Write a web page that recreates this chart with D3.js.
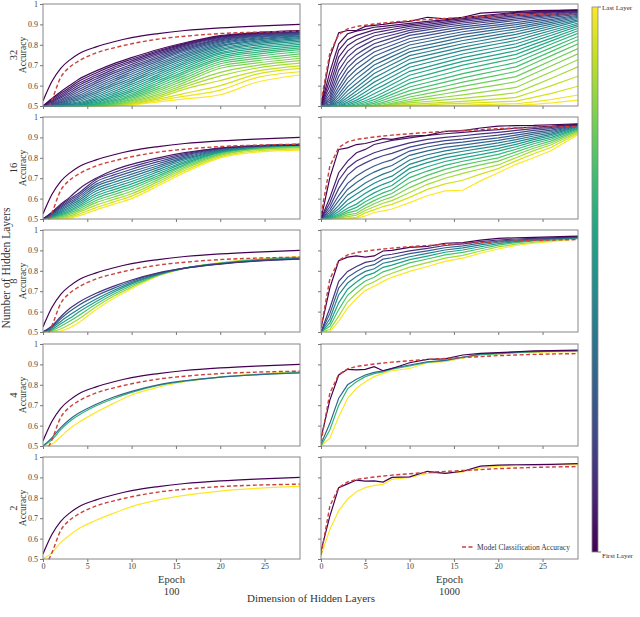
<!DOCTYPE html>
<html>
<head>
<meta charset="utf-8">
<script src="https://cdn.jsdelivr.net/npm/d3@7"></script>
<style>
body { margin: 0; background: #fff; }
text { font-family: 'Liberation Serif', 'DejaVu Serif', serif; fill: #333; }
.axis path { display: none; }
.axis line { stroke: #777; }
.axis text { font-family: 'Liberation Serif', serif; fill: #444; }
.frame { fill: none; stroke: #888; stroke-width: 1; }
</style>
</head>
<body>
<script>
var epochs100 = [0, 1, 2, 3, 4, 6, 8, 10, 13, 16, 20, 24, 29]
var epochs1000 = [0, 1, 2, 3, 4, 5, 6, 7, 8, 10, 12, 14, 16, 18, 20, 22, 24, 26, 29]
var layerCounts = [32, 16, 8, 4, 2]
var dimLabels = ['100', '1000']
var yTicks = [0.5, 0.6, 0.7, 0.8, 0.9, 1]
var xTicks = [0, 5, 10, 15, 20, 25]

// model classification accuracy (dashed)
var model100 = [0.44, 0.53, 0.64, 0.69, 0.72, 0.76, 0.785, 0.805, 0.828, 0.842, 0.855, 0.862, 0.867]
var model1000 = [0.52, 0.76, 0.85, 0.878, 0.89, 0.896, 0.902, 0.907, 0.911, 0.918, 0.924, 0.929, 0.934, 0.938, 0.943, 0.946, 0.949, 0.951, 0.953]

// dimension 100
var first100 = [0.525, 0.62, 0.685, 0.725, 0.755, 0.79, 0.815, 0.835, 0.855, 0.87, 0.883, 0.892, 0.90]

var acc100_32 = [first100,
  [.5,.537,.57,.60,.63,.672,.708,.737,.777,.81,.845,.86,.87],
  [.5,.532,.562,.591,.62,.662,.699,.729,.771,.806,.842,.858,.868],
  [.5,.527,.554,.582,.61,.652,.69,.721,.765,.802,.839,.856,.866],
  [.5,.522,.546,.573,.60,.642,.681,.713,.758,.797,.836,.854,.864],
  [.5,.518,.539,.564,.59,.632,.671,.704,.751,.792,.832,.851,.862],
  [.5,.514,.532,.556,.58,.622,.661,.695,.744,.786,.828,.848,.86],
  [.5,.511,.526,.548,.57,.612,.651,.686,.736,.78,.824,.845,.857],
  [.5,.508,.52,.54,.56,.602,.641,.677,.728,.774,.819,.841,.854],
  [.5,.506,.515,.533,.551,.592,.631,.667,.72,.767,.814,.837,.851],
  [.5,.504,.511,.527,.543,.582,.621,.657,.711,.76,.809,.833,.848],
  [.5,.502,.508,.521,.535,.572,.611,.647,.702,.752,.803,.828,.844],
  [.5,.5,.505,.516,.528,.563,.601,.637,.693,.744,.797,.823,.84],
  [.5,.5,.503,.512,.521,.554,.591,.627,.684,.736,.791,.817,.835],
  [.5,.5,.502,.508,.515,.545,.581,.617,.674,.727,.784,.811,.83],
  [.5,.5,.5,.505,.51,.537,.571,.607,.664,.718,.777,.804,.824],
  [.5,.5,.5,.503,.506,.53,.562,.597,.654,.709,.77,.797,.817],
  [.5,.5,.5,.502,.504,.523,.553,.587,.644,.70,.762,.789,.81],
  [.5,.5,.5,.5,.502,.517,.545,.578,.634,.69,.754,.781,.802],
  [.5,.5,.5,.5,.501,.512,.537,.569,.624,.68,.745,.772,.794],
  [.5,.5,.5,.5,.5,.508,.53,.56,.614,.67,.736,.763,.785],
  [.5,.5,.5,.5,.5,.505,.524,.552,.604,.66,.727,.753,.776],
  [.5,.5,.5,.5,.5,.503,.518,.545,.594,.649,.717,.743,.766],
  [.5,.5,.5,.5,.5,.502,.513,.538,.584,.638,.707,.732,.756],
  [.5,.5,.5,.5,.5,.5,.509,.532,.575,.627,.696,.721,.745],
  [.5,.5,.5,.5,.5,.5,.506,.526,.566,.616,.685,.71,.734],
  [.5,.5,.5,.5,.5,.5,.504,.521,.557,.605,.665,.698,.722],
  [.5,.5,.5,.5,.5,.5,.503,.517,.549,.594,.648,.685,.71],
  [.5,.5,.5,.5,.5,.5,.503,.513,.541,.583,.625,.67,.697],
  [.5,.5,.5,.5,.5,.5,.502,.51,.534,.562,.60,.655,.684],
  [.5,.5,.5,.5,.5,.5,.502,.507,.527,.548,.578,.638,.668],
  [.5,.5,.5,.5,.5,.5,.5,.505,.52,.535,.555,.615,.652]
]

var acc100_16 = [first100,
  [.5,.533,.573,.606,.645,.70,.74,.768,.80,.825,.848,.858,.862],
  [.5,.53,.566,.598,.626,.694,.728,.756,.791,.82,.847,.859,.864],
  [.5,.527,.56,.59,.617,.683,.716,.744,.781,.814,.845,.859,.865],
  [.5,.524,.554,.582,.608,.671,.704,.732,.771,.808,.843,.858,.866],
  [.5,.521,.548,.574,.599,.66,.692,.72,.761,.802,.84,.857,.866],
  [.5,.518,.542,.566,.59,.648,.68,.708,.752,.796,.837,.856,.866],
  [.5,.515,.536,.558,.581,.637,.668,.696,.742,.789,.834,.854,.865],
  [.5,.512,.53,.55,.572,.625,.656,.684,.732,.782,.831,.852,.864],
  [.5,.51,.525,.543,.564,.614,.644,.672,.722,.775,.828,.85,.862],
  [.5,.508,.52,.536,.556,.602,.632,.66,.712,.768,.825,.848,.86],
  [.5,.506,.515,.529,.548,.591,.62,.648,.703,.761,.821,.846,.857],
  [.5,.504,.51,.522,.54,.58,.608,.636,.693,.754,.817,.843,.854],
  [.5,.502,.506,.515,.532,.568,.596,.624,.683,.746,.812,.84,.85],
  [.5,.5,.503,.509,.523,.556,.584,.612,.673,.737,.806,.834,.844],
  [.5,.5,.5,.503,.515,.545,.573,.60,.663,.728,.80,.828,.838]
]

var acc100_8 = [first100,
  [.5,.53,.575,.615,.645,.69,.725,.755,.79,.813,.833,.847,.857],
  [.5,.525,.565,.60,.63,.677,.715,.749,.787,.813,.834,.848,.858],
  [.5,.52,.552,.583,.612,.662,.705,.742,.784,.813,.835,.85,.86],
  [.5,.513,.54,.567,.597,.65,.696,.736,.782,.813,.836,.852,.862],
  [.5,.508,.528,.553,.58,.637,.686,.728,.779,.813,.837,.853,.864],
  [.5,.503,.515,.537,.563,.624,.676,.72,.777,.812,.838,.855,.866],
  [.5,.5,.505,.52,.545,.61,.665,.712,.775,.812,.84,.857,.868]
]

var acc100_4 = [first100,
  [.5,.54,.59,.63,.66,.705,.74,.768,.80,.82,.838,.849,.858],
  [.5,.53,.58,.62,.65,.697,.733,.763,.797,.818,.838,.85,.86],
  [.5,.51,.545,.585,.615,.665,.71,.75,.788,.815,.838,.852,.866]
]

var acc100_2 = [first100,
  [.50,.53,.58,.617,.648,.69,.725,.757,.79,.812,.833,.846,.856]
]

// dimension 1000
var acc1000_32 = [
  [.50,.74,.859,.87,.87,.89,.895,.90,.906,.915,.935,.927,.935,.955,.96,.963,.968,.969,.97],
  [.50,.667,.805,.854,.867,.876,.886,.89,.895,.905,.915,.922,.933,.942,.951,.959,.962,.966,.971],
  [.50,.63,.773,.825,.846,.86,.873,.879,.886,.898,.908,.918,.928,.937,.946,.955,.959,.963,.969],
  [.50,.60,.74,.797,.825,.843,.859,.867,.875,.89,.90,.911,.922,.931,.94,.948,.954,.96,.968],
  [.50,.575,.708,.769,.802,.823,.843,.853,.862,.881,.892,.904,.915,.924,.933,.942,.948,.955,.964],
  [.50,.555,.675,.74,.778,.802,.825,.837,.848,.871,.883,.895,.907,.916,.926,.935,.942,.95,.961],
  [.50,.54,.646,.713,.753,.78,.805,.819,.833,.86,.873,.886,.898,.908,.917,.927,.936,.945,.958],
  [.50,.528,.619,.687,.729,.758,.786,.80,.816,.846,.86,.874,.888,.898,.909,.919,.929,.94,.955],
  [.50,.518,.594,.662,.705,.735,.765,.782,.798,.831,.846,.862,.877,.888,.898,.909,.921,.933,.95],
  [.50,.51,.575,.638,.68,.712,.744,.762,.78,.815,.831,.848,.864,.876,.888,.899,.912,.925,.945],
  [.50,.505,.557,.615,.656,.689,.722,.741,.761,.799,.816,.834,.851,.863,.876,.888,.903,.918,.94],
  [.50,.502,.542,.594,.633,.667,.701,.721,.742,.782,.80,.818,.836,.85,.864,.877,.894,.91,.935],
  [.50,.50,.529,.575,.61,.645,.68,.701,.723,.765,.784,.802,.821,.835,.85,.864,.883,.901,.929],
  [.50,.50,.519,.557,.591,.625,.659,.681,.703,.747,.766,.786,.805,.82,.836,.851,.871,.892,.922],
  [.50,.50,.511,.542,.573,.605,.638,.661,.684,.729,.749,.769,.789,.805,.82,.836,.859,.882,.916],
  [.50,.50,.505,.529,.557,.587,.617,.64,.663,.709,.73,.752,.773,.789,.805,.821,.846,.87,.907],
  [.50,.50,.50,.519,.542,.569,.597,.62,.643,.69,.712,.733,.755,.772,.788,.805,.832,.859,.899],
  [.50,.50,.50,.511,.529,.553,.578,.60,.624,.67,.692,.715,.737,.754,.772,.789,.818,.847,.89],
  [.50,.50,.50,.505,.519,.538,.56,.582,.605,.651,.674,.697,.719,.736,.753,.771,.802,.833,.88],
  [.50,.50,.50,.50,.511,.526,.544,.565,.587,.631,.654,.677,.70,.718,.735,.753,.786,.819,.869],
  [.50,.50,.50,.50,.505,.517,.531,.551,.571,.612,.635,.657,.68,.698,.716,.734,.769,.804,.856],
  [.50,.50,.50,.50,.50,.51,.521,.539,.557,.593,.615,.637,.659,.677,.695,.713,.75,.786,.841],
  [.50,.50,.50,.50,.50,.505,.513,.528,.544,.575,.596,.617,.638,.656,.674,.692,.73,.768,.825],
  [.50,.50,.50,.50,.50,.502,.506,.518,.531,.558,.578,.597,.617,.634,.651,.669,.708,.747,.805],
  [.50,.50,.50,.50,.50,.50,.502,.511,.521,.544,.561,.578,.596,.612,.628,.644,.683,.723,.782],
  [.50,.50,.50,.50,.50,.50,.50,.505,.513,.532,.546,.56,.575,.59,.604,.619,.658,.697,.756],
  [.50,.50,.50,.50,.50,.50,.50,.502,.508,.523,.534,.544,.555,.567,.579,.591,.63,.668,.727],
  [.50,.50,.50,.50,.50,.50,.50,.50,.504,.515,.522,.53,.537,.546,.555,.565,.60,.636,.692],
  [.50,.50,.50,.50,.50,.50,.50,.50,.502,.508,.513,.518,.523,.529,.535,.542,.57,.60,.646],
  [.50,.50,.50,.50,.50,.50,.50,.50,.50,.503,.506,.51,.513,.517,.52,.524,.542,.562,.597],
  [.50,.50,.50,.50,.50,.50,.50,.50,.50,.50,.502,.503,.505,.507,.509,.511,.52,.532,.554],
  [.50,.50,.50,.50,.50,.50,.50,.50,.50,.50,.50,.50,.50,.501,.502,.503,.508,.515,.529]
]

var acc1000_16 = [
  [.50,.703,.841,.849,.865,.87,.881,.894,.89,.906,.91,.93,.933,.946,.955,.958,.959,.962,.966],
  [.50,.605,.727,.784,.825,.841,.865,.875,.885,.898,.91,.918,.925,.932,.938,.945,.951,.955,.964],
  [.50,.58,.69,.75,.784,.805,.825,.838,.85,.873,.89,.90,.908,.917,.925,.934,.943,.949,.963],
  [.50,.56,.65,.715,.752,.775,.795,.81,.822,.852,.871,.884,.892,.902,.911,.922,.934,.943,.961],
  [.50,.545,.615,.675,.711,.738,.76,.777,.79,.833,.853,.868,.877,.888,.898,.911,.925,.936,.96],
  [.50,.532,.59,.645,.679,.707,.73,.748,.762,.812,.834,.851,.862,.874,.885,.90,.916,.929,.958],
  [.50,.522,.567,.618,.646,.676,.70,.72,.735,.789,.815,.834,.847,.86,.873,.889,.907,.922,.956],
  [.50,.515,.55,.593,.622,.65,.675,.695,.71,.768,.795,.817,.832,.846,.86,.878,.898,.915,.953],
  [.50,.51,.537,.572,.597,.626,.65,.67,.686,.748,.776,.80,.816,.831,.846,.866,.889,.908,.95],
  [.50,.506,.526,.553,.573,.603,.628,.648,.664,.727,.756,.782,.80,.816,.833,.854,.879,.90,.946],
  [.50,.503,.518,.54,.557,.585,.608,.628,.643,.703,.735,.763,.783,.80,.817,.842,.869,.892,.942],
  [.50,.502,.512,.53,.541,.568,.59,.61,.625,.679,.714,.743,.765,.783,.80,.829,.858,.883,.937],
  [.50,.50,.507,.52,.528,.554,.575,.593,.607,.654,.692,.722,.746,.765,.784,.815,.847,.874,.932],
  [.50,.50,.504,.512,.519,.542,.56,.577,.59,.63,.67,.70,.724,.745,.765,.80,.835,.864,.926],
  [.50,.50,.502,.505,.508,.53,.545,.561,.572,.606,.645,.672,.69,.72,.747,.785,.82,.852,.92],
  [.50,.50,.50,.502,.503,.515,.532,.54,.549,.58,.614,.638,.641,.687,.727,.768,.80,.836,.914]
]

var acc1000_8 = [
  [.52,.716,.849,.867,.873,.867,.873,.897,.90,.915,.92,.935,.938,.95,.959,.962,.964,.966,.97],
  [.50,.618,.748,.797,.821,.841,.849,.875,.881,.898,.91,.924,.932,.943,.951,.956,.959,.962,.966],
  [.50,.59,.716,.768,.797,.82,.83,.857,.864,.884,.898,.913,.922,.935,.945,.951,.955,.959,.964],
  [.50,.565,.683,.74,.772,.797,.81,.837,.846,.869,.885,.902,.912,.927,.94,.947,.952,.957,.963],
  [.50,.545,.643,.71,.745,.775,.79,.817,.828,.855,.872,.891,.902,.918,.933,.943,.949,.955,.962],
  [.50,.528,.61,.68,.718,.75,.768,.795,.808,.839,.858,.878,.89,.908,.926,.938,.946,.952,.961],
  [.50,.512,.578,.648,.69,.727,.746,.771,.788,.818,.84,.862,.876,.897,.917,.931,.94,.948,.959],
  [.50,.50,.553,.618,.664,.703,.724,.748,.768,.797,.821,.846,.862,.886,.907,.924,.935,.943,.956]
]

var acc1000_4 = [
  [.54,.725,.848,.876,.873,.876,.889,.869,.88,.908,.925,.927,.946,.954,.958,.962,.966,.968,.97],
  [.51,.611,.734,.80,.827,.848,.861,.868,.881,.897,.913,.92,.935,.951,.955,.96,.963,.965,.967],
  [.50,.58,.70,.78,.815,.84,.855,.863,.877,.893,.91,.918,.935,.948,.952,.958,.962,.964,.966],
  [.50,.538,.644,.734,.783,.815,.84,.856,.869,.88,.908,.913,.93,.946,.951,.956,.959,.961,.962]
]

var acc1000_2 = [
  [.54,.71,.85,.868,.887,.882,.883,.877,.90,.903,.93,.92,.93,.955,.96,.962,.963,.964,.968],
  [.516,.645,.737,.794,.83,.85,.861,.866,.89,.90,.919,.92,.927,.947,.955,.958,.96,.961,.963]
]

var panelSeries = {
  32: [acc100_32, acc1000_32],
  16: [acc100_16, acc1000_16],
  8: [acc100_8, acc1000_8],
  4: [acc100_4, acc1000_4],
  2: [acc100_2, acc1000_2]
}
var modelSeries = [model100, model1000]
var epochSeries = [epochs100, epochs1000]
var curves = [d3.curveMonotoneX, d3.curveLinear]

var width = 640
var height = 617
var colX = [43, 321]
var rowY = [4, 117, 230, 344, 457]
var panelW = 257
var panelH = 102
var red = '#c9403c'
var serif = "'Liberation Serif', 'DejaVu Serif', serif"

var svg = d3.select('body')
    .append('svg')
    .attr('width', width)
    .attr('height', height)

var x = d3.scaleLinear().domain([0, 29]).range([0, panelW])
var y = d3.scaleLinear().domain([0.5, 1]).range([panelH, 0])

var defs = svg.append('defs')

layerCounts.forEach(function (n, r) {
    [0, 1].forEach(function (c) {
        var g = svg.append('g')
            .attr('transform', 'translate(' + colX[c] + ',' + rowY[r] + ')')

        var clipId = 'clip-' + r + '-' + c
        defs.append('clipPath').attr('id', clipId)
            .append('rect').attr('width', panelW).attr('height', panelH + 0.5)

        var ep = epochSeries[c]
        var line = d3.line()
            .x(function (d, i) { return x(ep[i]) })
            .y(function (d) { return y(d) })
            .curve(curves[c])

        var series = panelSeries[n][c]
        var k = series.length - 1
        var items = series.map(function (s, i) { return { values: s, i: i } }).reverse()

        var plot = g.append('g').attr('clip-path', 'url(#' + clipId + ')')

        plot.selectAll('.layer')
            .data(items)
            .enter().append('path')
            .attr('class', 'layer')
            .attr('d', function (d) { return line(d.values) })
            .attr('fill', 'none')
            .attr('stroke', function (d) { return d3.interpolateViridis(d.i / k) })
            .attr('stroke-width', 1.2)

        plot.append('path')
            .attr('d', line(modelSeries[c]))
            .attr('fill', 'none')
            .attr('stroke', red)
            .attr('stroke-width', 1.4)
            .attr('stroke-dasharray', '4,2.5')

        g.append('rect').attr('class', 'frame')
            .attr('width', panelW).attr('height', panelH)

        var xAxis = d3.axisBottom(x).tickValues(xTicks).tickSize(3).tickPadding(1.5)
            .tickFormat(r === layerCounts.length - 1 ? d3.format('d') : '')
        var yAxis = d3.axisLeft(y).tickValues(yTicks).tickSize(3).tickPadding(2)
            .tickFormat(c === 0 ? d3.format('') : '')

        g.append('g').attr('class', 'axis')
            .attr('transform', 'translate(0,' + panelH + ')')
            .call(xAxis)
            .attr('font-size', 8)
            .attr('font-family', serif)
        g.append('g').attr('class', 'axis')
            .call(yAxis)
            .attr('font-size', 8)
            .attr('font-family', serif)

        if (c === 0) {
            g.append('text')
                .attr('transform', 'translate(-17,' + panelH / 2 + ') rotate(-90)')
                .attr('text-anchor', 'middle')
                .attr('font-size', 9.5)
                .text('Accuracy')
            g.append('text')
                .attr('transform', 'translate(-26,' + panelH / 2 + ') rotate(-90)')
                .attr('text-anchor', 'middle')
                .attr('font-size', 10.5)
                .text(n)
        }
        if (r === layerCounts.length - 1) {
            g.append('text')
                .attr('x', panelW / 2).attr('y', panelH + 23.5)
                .attr('text-anchor', 'middle')
                .attr('font-size', 10.5)
                .text('Epoch')
            g.append('text')
                .attr('x', panelW / 2).attr('y', panelH + 35.5)
                .attr('text-anchor', 'middle')
                .attr('font-size', 10.5)
                .text(dimLabels[c])
        }
        if (r === layerCounts.length - 1 && c === 1) {
            var lg = g.append('g').attr('transform', 'translate(141,' + (panelH - 12) + ')')
            lg.append('line')
                .attr('x1', 0).attr('x2', 12).attr('y1', 0).attr('y2', 0)
                .attr('stroke', red).attr('stroke-width', 1.4)
                .attr('stroke-dasharray', '4,2.5')
            lg.append('text')
                .attr('x', 15).attr('y', 2.5)
                .attr('font-size', 7.5)
                .text('Model Classification Accuracy')
        }
    })
})

svg.append('text')
    .attr('transform', 'translate(9.5,268) rotate(-90)')
    .attr('text-anchor', 'middle')
    .attr('font-size', 11.5)
    .text('Number of Hidden Layers')

svg.append('text')
    .attr('x', 311).attr('y', 602)
    .attr('text-anchor', 'middle')
    .attr('font-size', 11)
    .text('Dimension of Hidden Layers')

// colour bar
var grad = defs.append('linearGradient')
    .attr('id', 'cbar').attr('x1', 0).attr('x2', 0).attr('y1', 1).attr('y2', 0)
d3.range(0, 1.01, 0.1).forEach(function (t) {
    grad.append('stop').attr('offset', t).attr('stop-color', d3.interpolateViridis(t))
})
var cb = { x: 592, y: 7, w: 6, h: 545 }
svg.append('rect')
    .attr('x', cb.x).attr('y', cb.y).attr('width', cb.w).attr('height', cb.h)
    .attr('fill', 'url(#cbar)').attr('stroke', '#888').attr('stroke-width', 0.8)
svg.append('line').attr('x1', cb.x + cb.w).attr('x2', cb.x + cb.w + 3)
    .attr('y1', cb.y).attr('y2', cb.y).attr('stroke', '#777')
svg.append('line').attr('x1', cb.x + cb.w).attr('x2', cb.x + cb.w + 3)
    .attr('y1', cb.y + cb.h).attr('y2', cb.y + cb.h).attr('stroke', '#777')
svg.append('text').attr('x', cb.x + cb.w + 4).attr('y', cb.y + 2.5)
    .attr('font-size', 7).text('Last Layer')
svg.append('text').attr('x', cb.x + cb.w + 4).attr('y', cb.y + cb.h + 6)
    .attr('font-size', 7).text('First Layer')
</script>
</body>
</html>
